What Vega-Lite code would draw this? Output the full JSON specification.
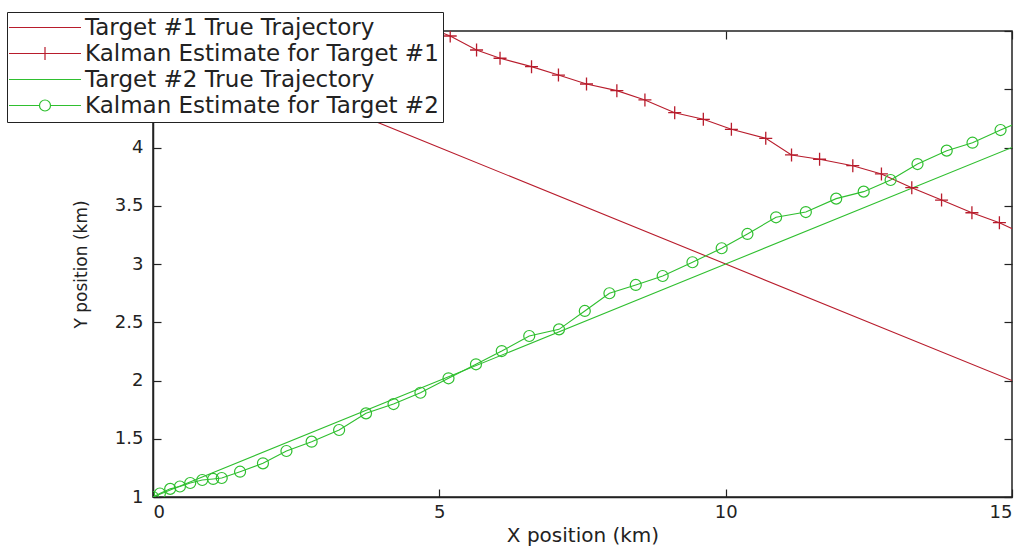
{
  "$schema": "https://vega.github.io/schema/vega-lite/v6.json",
  "width": 859,
  "height": 466,
  "autosize": "none",
  "padding": {"left": 153, "top": 31, "right": 23, "bottom": 53},
  "background": "white",
  "config": {
    "view": {"stroke": "#222", "strokeWidth": 1.5},
    "font": "DejaVu Sans",
    "axis": {
      "domainColor": "#222",
      "domainWidth": 1.5,
      "tickColor": "#222",
      "tickWidth": 1.2,
      "grid": false,
      "labelFont": "DejaVu Sans",
      "labelFontSize": 18,
      "labelColor": "#222",
      "titleFont": "DejaVu Sans",
      "titleFontWeight": "normal",
      "titleColor": "#222"
    }
  },
  "datasets": {
    "traj": [
      {"series": "Target #1 True Trajectory", "x": 0, "y": 5},
      {"series": "Target #1 True Trajectory", "x": 5, "y": 4},
      {"series": "Target #1 True Trajectory", "x": 10, "y": 3},
      {"series": "Target #1 True Trajectory", "x": 15, "y": 2},
      {"series": "Target #2 True Trajectory", "x": 0, "y": 1},
      {"series": "Target #2 True Trajectory", "x": 5, "y": 2},
      {"series": "Target #2 True Trajectory", "x": 10, "y": 3},
      {"series": "Target #2 True Trajectory", "x": 15, "y": 4},
      {"series": "Kalman Estimate for Target #1", "x": 4.7, "y": 5.05},
      {"series": "Kalman Estimate for Target #1", "x": 5.19, "y": 4.957},
      {"series": "Kalman Estimate for Target #1", "x": 5.65, "y": 4.837},
      {"series": "Kalman Estimate for Target #1", "x": 6.06, "y": 4.766},
      {"series": "Kalman Estimate for Target #1", "x": 6.61, "y": 4.694},
      {"series": "Kalman Estimate for Target #1", "x": 7.08, "y": 4.622},
      {"series": "Kalman Estimate for Target #1", "x": 7.57, "y": 4.545},
      {"series": "Kalman Estimate for Target #1", "x": 8.10, "y": 4.488},
      {"series": "Kalman Estimate for Target #1", "x": 8.59, "y": 4.408},
      {"series": "Kalman Estimate for Target #1", "x": 9.11, "y": 4.299},
      {"series": "Kalman Estimate for Target #1", "x": 9.61, "y": 4.242},
      {"series": "Kalman Estimate for Target #1", "x": 10.10, "y": 4.156},
      {"series": "Kalman Estimate for Target #1", "x": 10.70, "y": 4.079},
      {"series": "Kalman Estimate for Target #1", "x": 11.15, "y": 3.936},
      {"series": "Kalman Estimate for Target #1", "x": 11.64, "y": 3.899},
      {"series": "Kalman Estimate for Target #1", "x": 12.22, "y": 3.844},
      {"series": "Kalman Estimate for Target #1", "x": 12.72, "y": 3.773},
      {"series": "Kalman Estimate for Target #1", "x": 13.25, "y": 3.655},
      {"series": "Kalman Estimate for Target #1", "x": 13.77, "y": 3.549},
      {"series": "Kalman Estimate for Target #1", "x": 14.30, "y": 3.440},
      {"series": "Kalman Estimate for Target #1", "x": 14.78, "y": 3.355},
      {"series": "Kalman Estimate for Target #1", "x": 15.28, "y": 3.24},
      {"series": "Kalman Estimate for Target #2", "x": 0, "y": 1.0},
      {"series": "Kalman Estimate for Target #2", "x": 0.12, "y": 1.03},
      {"series": "Kalman Estimate for Target #2", "x": 0.3, "y": 1.07},
      {"series": "Kalman Estimate for Target #2", "x": 0.47, "y": 1.09},
      {"series": "Kalman Estimate for Target #2", "x": 0.65, "y": 1.12},
      {"series": "Kalman Estimate for Target #2", "x": 0.86, "y": 1.146},
      {"series": "Kalman Estimate for Target #2", "x": 1.05, "y": 1.155},
      {"series": "Kalman Estimate for Target #2", "x": 1.2, "y": 1.163},
      {"series": "Kalman Estimate for Target #2", "x": 1.52, "y": 1.217},
      {"series": "Kalman Estimate for Target #2", "x": 1.92, "y": 1.289},
      {"series": "Kalman Estimate for Target #2", "x": 2.33, "y": 1.395},
      {"series": "Kalman Estimate for Target #2", "x": 2.77, "y": 1.475},
      {"series": "Kalman Estimate for Target #2", "x": 3.25, "y": 1.575},
      {"series": "Kalman Estimate for Target #2", "x": 3.72, "y": 1.718},
      {"series": "Kalman Estimate for Target #2", "x": 4.20, "y": 1.798},
      {"series": "Kalman Estimate for Target #2", "x": 4.67, "y": 1.895},
      {"series": "Kalman Estimate for Target #2", "x": 5.16, "y": 2.019},
      {"series": "Kalman Estimate for Target #2", "x": 5.64, "y": 2.139},
      {"series": "Kalman Estimate for Target #2", "x": 6.09, "y": 2.253},
      {"series": "Kalman Estimate for Target #2", "x": 6.57, "y": 2.382},
      {"series": "Kalman Estimate for Target #2", "x": 7.09, "y": 2.439},
      {"series": "Kalman Estimate for Target #2", "x": 7.54, "y": 2.597},
      {"series": "Kalman Estimate for Target #2", "x": 7.97, "y": 2.749},
      {"series": "Kalman Estimate for Target #2", "x": 8.43, "y": 2.82},
      {"series": "Kalman Estimate for Target #2", "x": 8.90, "y": 2.897},
      {"series": "Kalman Estimate for Target #2", "x": 9.42, "y": 3.015},
      {"series": "Kalman Estimate for Target #2", "x": 9.93, "y": 3.135},
      {"series": "Kalman Estimate for Target #2", "x": 10.38, "y": 3.258},
      {"series": "Kalman Estimate for Target #2", "x": 10.88, "y": 3.401},
      {"series": "Kalman Estimate for Target #2", "x": 11.40, "y": 3.446},
      {"series": "Kalman Estimate for Target #2", "x": 11.93, "y": 3.561},
      {"series": "Kalman Estimate for Target #2", "x": 12.41, "y": 3.621},
      {"series": "Kalman Estimate for Target #2", "x": 12.88, "y": 3.721},
      {"series": "Kalman Estimate for Target #2", "x": 13.35, "y": 3.858},
      {"series": "Kalman Estimate for Target #2", "x": 13.86, "y": 3.973},
      {"series": "Kalman Estimate for Target #2", "x": 14.31, "y": 4.041},
      {"series": "Kalman Estimate for Target #2", "x": 14.80, "y": 4.150},
      {"series": "Kalman Estimate for Target #2", "x": 15.28, "y": 4.25}
    ]
  },
  "data": {"name": "traj"},
  "resolve": {"axis": {"x": "independent", "y": "independent"}},
  "layer": [
    {
      "mark": {"type": "line", "clip": true, "strokeWidth": 1.1},
      "encoding": {
        "x": {
          "field": "x", "type": "quantitative",
          "scale": {"domain": [0, 15], "nice": false, "zero": false},
          "axis": {"orient": "bottom", "values": [0, 5, 10, 15], "title": "X position (km)", "titleFontSize": 20, "tickSize": -8, "labelPadding": 14, "titlePadding": 4}
        },
        "y": {
          "field": "y", "type": "quantitative",
          "scale": {"domain": [1, 5], "nice": false, "zero": false},
          "axis": {"orient": "left", "values": [1, 1.5, 2, 2.5, 3, 3.5, 4], "format": "~g", "title": "Y position (km)", "titleFontSize": 17, "tickSize": -8, "labelPadding": 18, "titlePadding": 24}
        },
        "color": {
          "field": "series", "type": "nominal",
          "scale": {
            "domain": ["Target #1 True Trajectory", "Kalman Estimate for Target #1", "Target #2 True Trajectory", "Kalman Estimate for Target #2"],
            "range": ["#b81c2c", "#b81c2c", "#2fbf2f", "#2fbf2f"]
          },
          "legend": {
            "orient": "none",
            "legendX": -146,
            "legendY": -19,
            "title": null,
            "fillColor": "white",
            "strokeColor": "#222",
            "padding": 4,
            "labelFont": "DejaVu Sans",
            "labelFontSize": 23,
            "labelColor": "#222",
            "labelLimit": 0,
            "symbolSize": 64,
            "rowPadding": 2,
            "encode": {
              "symbols": {
                "update": {
                  "x": {"value": 34},
                  "size": {"value": 64},
                  "fill": {"value": "transparent"},
                  "stroke": {"scale": "color", "field": "value"},
                  "strokeWidth": {"value": 1.2},
                  "opacity": {"value": 1},
                  "shape": {"signal": "datum.value === 'Kalman Estimate for Target #1' ? 'M-9,0H9M0,-1.6V1.6' : (datum.value === 'Kalman Estimate for Target #2' ? 'M-9,0H-1.375A1.375,1.375,0,1,1,1.375,0A1.375,1.375,0,1,1,-1.375,0M1.375,0H9' : 'M-9,0H9')"}
                }
              },
              "labels": {"update": {"x": {"value": 74}}}
            }
          }
        },
        "detail": {"field": "series"}
      }
    },
    {
      "transform": [{"filter": "datum.series === 'Kalman Estimate for Target #1'"}],
      "mark": {"type": "point", "clip": true, "shape": "M-1,0H1M0,-1V1", "filled": false, "color": "#b81c2c", "size": 169, "strokeWidth": 1.3, "opacity": 1},
      "encoding": {
        "x": {"field": "x", "type": "quantitative", "axis": {"orient": "top", "values": [0, 5, 10, 15], "labels": false, "title": null, "tickSize": -8, "domain": false}},
        "y": {"field": "y", "type": "quantitative", "axis": {"orient": "right", "values": [1, 1.5, 2, 2.5, 3, 3.5, 4, 4.5, 5], "labels": false, "title": null, "tickSize": -8, "domain": false}}
      }
    },
    {
      "transform": [{"filter": "datum.series === 'Kalman Estimate for Target #2'"}],
      "mark": {"type": "point", "clip": true, "shape": "circle", "filled": false, "color": "#2fbf2f", "size": 121, "strokeWidth": 1.2, "opacity": 1},
      "encoding": {
        "x": {"field": "x", "type": "quantitative", "axis": null},
        "y": {"field": "y", "type": "quantitative", "axis": null}
      }
    }
  ]
}
